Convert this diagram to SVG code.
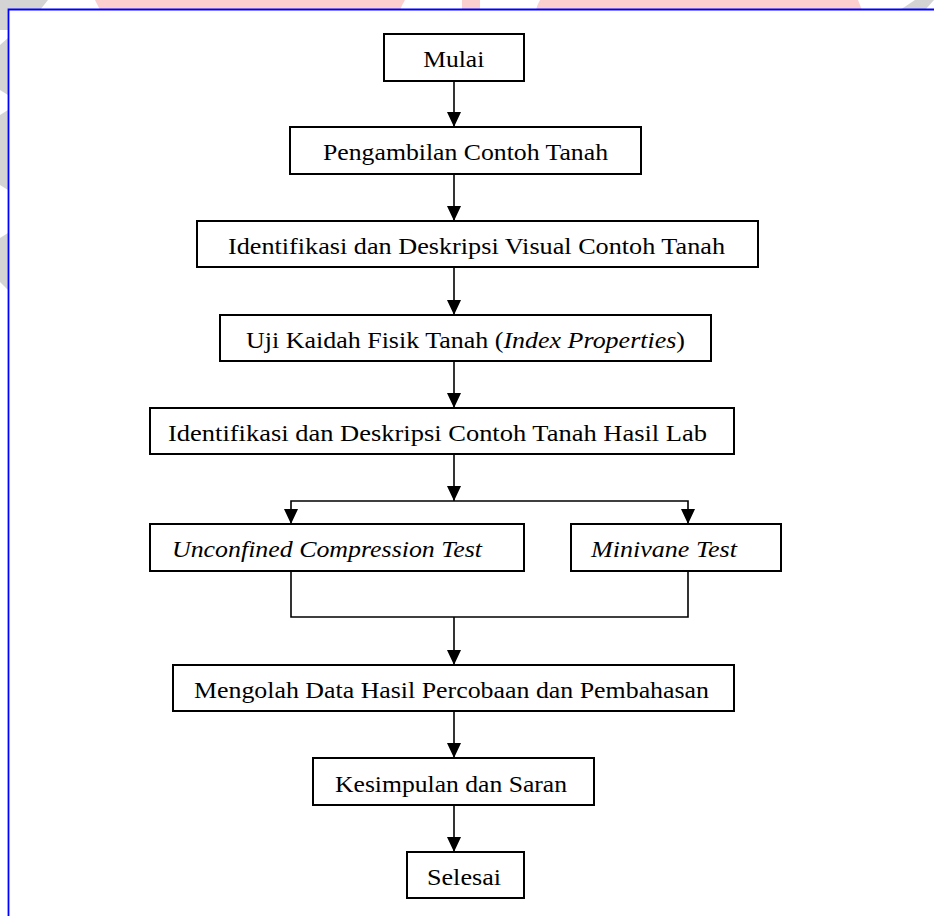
<svg xmlns="http://www.w3.org/2000/svg" width="934" height="916" viewBox="0 0 934 916">
<style>
.box{fill:#fff;stroke:#000;stroke-width:2}
.lbl{font-family:"Liberation Serif","Times New Roman",serif;font-size:24px;fill:#000}
.it{font-style:italic}
.con{fill:none;stroke:#000;stroke-width:1.6}
.wm-p{fill:#fdd0d0}
.wm-g{fill:#d4d4d4}
.frame{fill:none;stroke:#0000ff;stroke-width:1.8}
</style>
<defs>
<marker id="arr" viewBox="0 0 15 14" refX="15" refY="7" markerWidth="15" markerHeight="14" markerUnits="userSpaceOnUse" orient="auto">
<path d="M0,0 L15,7 L0,14 z" fill="#000"/>
</marker>
</defs>
<rect width="934" height="916" fill="#fff"/>
<g id="watermark">
<path class="wm-p" d="M95,0 H405 Q402,5 400,10 H100 Z"/>
<path class="wm-p" d="M462,0 H480 V10 H462 Z"/>
<path class="wm-p" d="M540,0 H858 Q860,5 862,10 H536 Q537,5 540,0 Z"/>
<path class="wm-g" d="M0,0 H48 L40,10 H8 V30 H0 Z"/>
<path class="wm-g" d="M900,10 L915,0 H934 V0 L925,10 Z"/>
<path class="wm-g" d="M0,45 L8,38 V95 L0,90 Z"/>
<path class="wm-g" d="M0,115 L8,110 V190 L0,185 Z"/>
<path class="wm-g" d="M0,238 L8,233 V290 L0,282 Z"/>
</g>
<rect x="9" y="10" width="925" height="906" fill="#fff"/>
<path class="frame" d="M8.5,916 V9.5 H934"/>
<g id="connectors">
<path class="con" d="M454,81 V127" marker-end="url(#arr)"/>
<path class="con" d="M454,174 V221" marker-end="url(#arr)"/>
<path class="con" d="M454,267 V315" marker-end="url(#arr)"/>
<path class="con" d="M454,361 V408" marker-end="url(#arr)"/>
<path class="con" d="M454,454 V501" marker-end="url(#arr)"/>
<path class="con" d="M454,501 H291 V524" marker-end="url(#arr)"/>
<path class="con" d="M454,501 H688 V524" marker-end="url(#arr)"/>
<path class="con" d="M291,571 V617 H688 V571"/>
<path class="con" d="M454,617 V665" marker-end="url(#arr)"/>
<path class="con" d="M454,711 V758" marker-end="url(#arr)"/>
<path class="con" d="M454,805 V852" marker-end="url(#arr)"/>
</g>
<g id="mulai">
<rect class="box" x="384" y="34" width="140" height="47"/>
<text class="lbl" x="423.3" y="66.5" textLength="61" lengthAdjust="spacingAndGlyphs">Mulai</text>
</g>
<g id="pengambilan">
<rect class="box" x="290" y="127" width="351" height="47"/>
<text class="lbl" x="323" y="160" textLength="285" lengthAdjust="spacingAndGlyphs">Pengambilan Contoh Tanah</text>
</g>
<g id="identifikasi-visual">
<rect class="box" x="197" y="221" width="561" height="46"/>
<text class="lbl" x="228" y="253.5" textLength="497" lengthAdjust="spacingAndGlyphs">Identifikasi dan Deskripsi Visual Contoh Tanah</text>
</g>
<g id="uji-kaidah">
<rect class="box" x="220" y="315" width="491" height="46"/>
<text class="lbl" x="246" y="347.5" textLength="439" lengthAdjust="spacingAndGlyphs">Uji Kaidah Fisik Tanah (<tspan class="it">Index Properties</tspan>)</text>
</g>
<g id="identifikasi-lab">
<rect class="box" x="150" y="408" width="584" height="46"/>
<text class="lbl" x="168" y="440.5" textLength="539" lengthAdjust="spacingAndGlyphs">Identifikasi dan Deskripsi Contoh Tanah Hasil Lab</text>
</g>
<g id="unconfined">
<rect class="box" x="150" y="524" width="374" height="47"/>
<text class="lbl it" x="172" y="557" textLength="310" lengthAdjust="spacingAndGlyphs">Unconfined Compression Test</text>
</g>
<g id="minivane">
<rect class="box" x="571" y="524" width="210" height="47"/>
<text class="lbl it" x="591" y="557" textLength="146" lengthAdjust="spacingAndGlyphs">Minivane Test</text>
</g>
<g id="mengolah">
<rect class="box" x="173" y="665" width="561" height="46"/>
<text class="lbl" x="194" y="697.5" textLength="515" lengthAdjust="spacingAndGlyphs">Mengolah Data Hasil Percobaan dan Pembahasan</text>
</g>
<g id="kesimpulan">
<rect class="box" x="313" y="758" width="281" height="47"/>
<text class="lbl" x="335" y="791.5" textLength="232" lengthAdjust="spacingAndGlyphs">Kesimpulan dan Saran</text>
</g>
<g id="selesai">
<rect class="box" x="407" y="852" width="117" height="46"/>
<text class="lbl" x="427" y="885" textLength="74" lengthAdjust="spacingAndGlyphs">Selesai</text>
</g>
</svg>
